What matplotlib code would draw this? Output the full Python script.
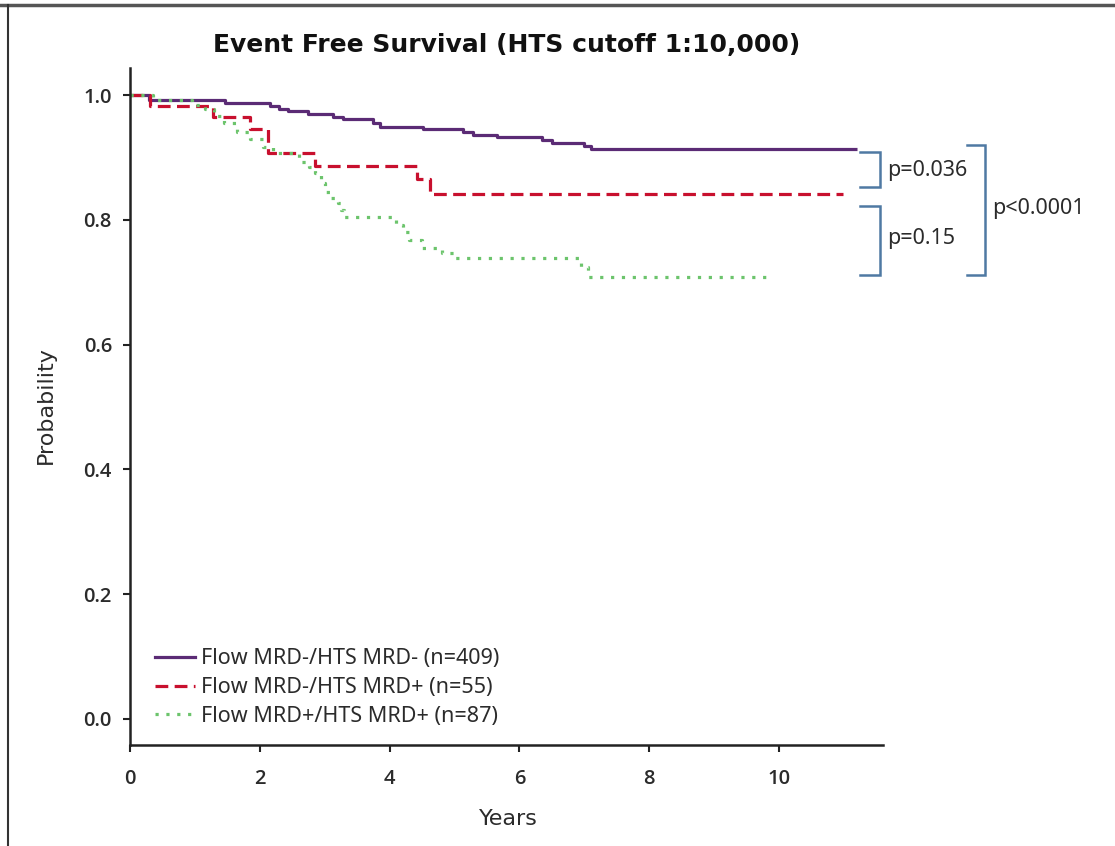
import matplotlib
matplotlib.use("Agg")
import matplotlib.pyplot as plt
from matplotlib.lines import Line2D

# ---------------- data ----------------
title = "Event Free Survival (HTS cutoff 1:10,000)"
labels = ["Flow MRD-/HTS MRD- (n=409)",
          "Flow MRD-/HTS MRD+ (n=55)",
          "Flow MRD+/HTS MRD+ (n=87)"]

t_neg_neg = [0, 0.30, 1.46, 2.15, 2.30, 2.43, 2.74, 3.13, 3.28, 3.75, 3.85,
             4.51, 5.13, 5.28, 5.65, 6.35, 6.50, 7.00, 7.10, 11.2]
s_neg_neg = [1.0, 0.992, 0.987, 0.982, 0.977, 0.974, 0.969, 0.964, 0.961, 0.955, 0.948,
             0.945, 0.940, 0.936, 0.932, 0.928, 0.923, 0.918, 0.913, 0.913]

t_neg_pos = [0, 0.31, 1.28, 1.85, 2.13, 2.85, 4.42, 4.62, 10.99]
s_neg_pos = [1.0, 0.982, 0.964, 0.946, 0.907, 0.886, 0.865, 0.841, 0.841]

t_pos_pos = [0, 0.35, 0.95, 1.15, 1.30, 1.45, 1.65, 1.85, 2.05, 2.20, 2.60, 2.75,
             2.85, 2.95, 3.00, 3.10, 3.20, 3.25, 3.30, 4.10, 4.20, 4.30, 4.50,
             4.80, 5.00, 6.95, 7.05, 9.85]
s_pos_pos = [1.0, 0.992, 0.984, 0.977, 0.966, 0.955, 0.940, 0.930, 0.917, 0.907, 0.893, 0.885,
             0.875, 0.859, 0.845, 0.835, 0.827, 0.816, 0.804, 0.792, 0.781, 0.768, 0.755,
             0.747, 0.739, 0.725, 0.708, 0.708]

pvals = ["p=0.036", "p=0.15", "p<0.0001"]
xticks = [0, 2, 4, 6, 8, 10]
yticks = [0.0, 0.2, 0.4, 0.6, 0.8, 1.0]

# ---------------- style ----------------
c_purple = "#5b2b75"
c_red = "#c8102e"
c_green = "#6cc46c"
c_brk = "#4f79a3"
txt = "#2b2b2b"
fam = ["Noto Sans", "DejaVu Sans"]

W, H = 1115, 846
fig = plt.figure(figsize=(W / 100, H / 100), dpi=100)
ax = fig.add_axes([130 / W, 1 - 745 / H, (883 - 130) / W, (745 - 68) / H])

ax.step(t_neg_neg, s_neg_neg, where="post", color=c_purple, lw=2.3,
        solid_capstyle="butt")
ax.step(t_neg_pos, s_neg_pos, where="post", color=c_red, lw=2.3,
        linestyle=(0, (4, 2)), dash_capstyle="butt")
ax.step(t_pos_pos, s_pos_pos, where="post", color=c_green, lw=2.3,
        linestyle=(0, (1, 2.4)), dash_capstyle="butt")

ax.set_xlim(0, 11.6)
ax.set_ylim(-0.0417, 1.0433)
ax.set_xticks(xticks)
ax.set_yticks(yticks)
ax.set_xticklabels([str(v) for v in xticks])
ax.set_yticklabels(["%.1f" % v for v in yticks])

for s in ["top", "right"]:
    ax.spines[s].set_visible(False)
for s in ["left", "bottom"]:
    ax.spines[s].set_linewidth(1.8)
    ax.spines[s].set_color("#222222")
ax.tick_params(axis="both", direction="out", length=5, width=1.5, color="#222222",
               labelsize=14.5, labelcolor=txt)
ax.tick_params(axis="x", pad=12)
ax.tick_params(axis="y", pad=8)
for lab in ax.get_xticklabels() + ax.get_yticklabels():
    lab.set_fontweight("semibold")
    lab.set_family(["Open Sans", "DejaVu Sans"])

ax.set_xlabel("Years", fontsize=16, color=txt, family=["DejaVu Sans"])
ax.set_ylabel("Probability", fontsize=16, color=txt, family=["DejaVu Sans"])
ax.xaxis.set_label_coords(0.502, -0.094)
ax.yaxis.set_label_coords(-0.099, 0.502)

fig.text(507 / W, 1 - 45 / H, title, ha="center", va="center", fontsize=18,
         fontweight="bold", color="#111111", family=["DejaVu Sans"])

# legend
handles = [Line2D([], [], color=c_purple, lw=2.3),
           Line2D([], [], color=c_red, lw=2.3, linestyle=(0, (4, 2)), dash_capstyle="butt"),
           Line2D([], [], color=c_green, lw=2.3, linestyle=(0, (1, 2.4)), dash_capstyle="butt")]
leg = ax.legend(handles, labels, loc="lower left", bbox_to_anchor=(0.022, 0.014),
                frameon=False, prop={"family": fam, "size": 15.5},
                handlelength=1.85, handletextpad=0.3,
                labelspacing=0.36, borderaxespad=0)
for t in leg.get_texts():
    t.set_color(txt)

# p-value brackets
def bracket(x0, x1, y0, y1):
    ax.plot([x0, x1, x1, x0], [y0, y0, y1, y1], color=c_brk, lw=1.8,
            clip_on=False, solid_joinstyle="miter")

bracket(11.25, 11.56, 0.909, 0.853)
bracket(11.25, 11.56, 0.822, 0.712)
bracket(12.90, 13.17, 0.920, 0.712)
ax.text(11.66, 0.879, pvals[0], fontsize=15.5, color=txt, va="center", ha="left",
        clip_on=False, family=fam)
ax.text(11.66, 0.770, pvals[1], fontsize=15.5, color=txt, va="center", ha="left",
        clip_on=False, family=fam)
ax.text(13.28, 0.818, pvals[2], fontsize=15.5, color=txt, va="center", ha="left",
        clip_on=False, family=fam)

# outer frame (top and left edges)
fig.add_artist(Line2D([0, 1], [1 - 5 / H, 1 - 5 / H], color="#555555", lw=2.5,
                      transform=fig.transFigure))
fig.add_artist(Line2D([8 / W, 8 / W], [0, 1 - 5 / H], color="#333333", lw=1.5,
                      transform=fig.transFigure))

fig.savefig("out.png", dpi=100)
